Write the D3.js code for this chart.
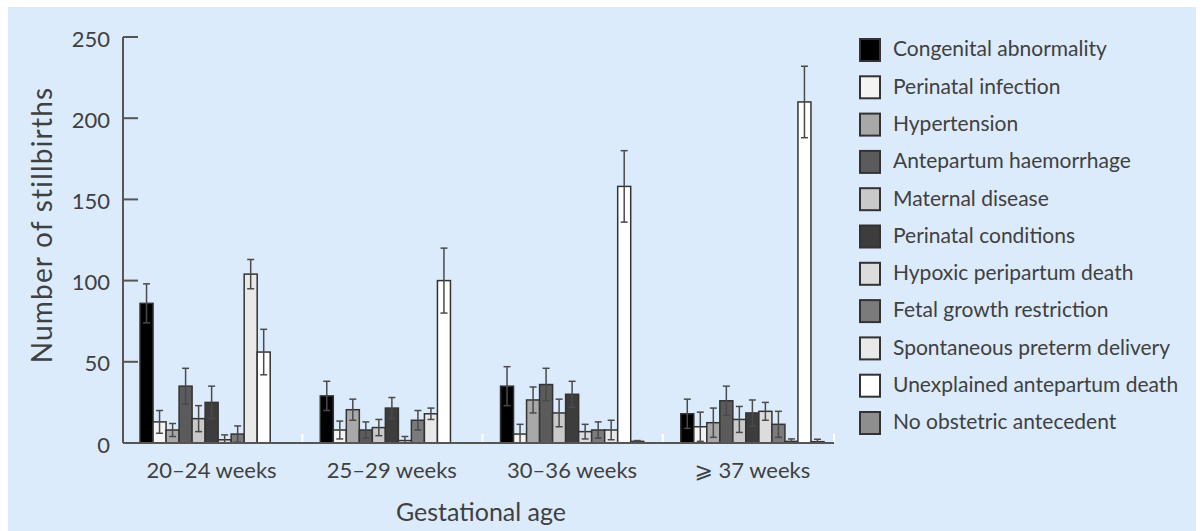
<!DOCTYPE html>
<html lang="en">
<head>
  <meta charset="UTF-8" />
  <title>Stillbirths by gestational age</title>
  <script src="https://d3js.org/d3.v7.min.js"></script>
  <style>
    body {
      margin: 0;
      padding: 0;
      background: #ffffff;
      font-family: Lato, "Open Sans", "DejaVu Sans", sans-serif;
    }
    #chart {
      width: 1204px;
      height: 531px;
    }
    text {
      fill: #404040;
      font-weight: 400;
    }
  </style>
</head>
<body>

<div id="chart"></div>

<script>
  // Categories and causes
  const ages = ["20\u201324 weeks", "25\u201329 weeks", "30\u201336 weeks", "\u2A7E 37 weeks"];
  const causes = [
    "Congenital abnormality", "Perinatal infection", "Hypertension",
    "Antepartum haemorrhage", "Maternal disease", "Perinatal conditions",
    "Hypoxic peripartum death", "Fetal growth restriction",
    "Spontaneous preterm delivery", "Unexplained antepartum death",
    "No obstetric antecedent"
  ];
  const causeFills = ["#000000", "#f4f5f3", "#a8a8a8", "#5b5b5b", "#c9c9c9", "#3d3d3d",
                      "#dcdcdc", "#7b7b7b", "#e9e9e9", "#ffffff", "#8e8e8e"];

  // Values per cause, one per age group
  const congenital   = [86, 29, 35, 18];
  const infection    = [13, 8, 5.5, 10];
  const hypertension = [8, 20.5, 26.5, 12.5];
  const haemorrhage  = [35, 8, 36, 26];
  const maternal     = [15, 9.5, 18.5, 14.5];
  const perinatal    = [25, 21.5, 30, 18.5];
  const hypoxic      = [2, 1.5, 7, 19.5];
  const fetalGrowth  = [5.5, 14, 8, 11.5];
  const spontaneous  = [104, 18, 8, 1];
  const unexplained  = [56, 100, 158, 210];
  const noAntecedent = [0, 0, 1, 0.8];

  // Half-widths of the error bars
  const congenitalErr   = [12, 9, 12, 9];
  const infectionErr    = [7, 5.5, 6, 9];
  const hypertensionErr = [4, 6.5, 8, 9];
  const haemorrhageErr  = [11, 5, 10, 9];
  const maternalErr     = [8, 5, 8.5, 8];
  const perinatalErr    = [10, 6.5, 8, 8];
  const hypoxicErr      = [3, 2.5, 4.5, 5.5];
  const fetalGrowthErr  = [5, 6, 5, 8];
  const spontaneousErr  = [9, 3.5, 6, 1.5];
  const unexplainedErr  = [14, 20, 22, 22];
  const noAntecedentErr = [0, 0, 0.5, 1.5];

  const yTicks = [0, 50, 100, 150, 200, 250];

  const series = [congenital, infection, hypertension, haemorrhage, maternal, perinatal,
                  hypoxic, fetalGrowth, spontaneous, unexplained, noAntecedent];
  const errors = [congenitalErr, infectionErr, hypertensionErr, haemorrhageErr, maternalErr,
                  perinatalErr, hypoxicErr, fetalGrowthErr, spontaneousErr, unexplainedErr,
                  noAntecedentErr];

  const rows = [];
  ages.forEach((age, gi) => {
    causes.forEach((cause, ci) => {
      rows.push({ age, cause, ci, value: series[ci][gi], err: errors[ci][gi] });
    });
  });

  const width = 1204;
  const height = 531;
  const axisLeft = 123, axisRight = 834;

  const svg = d3.select("#chart")
    .append("svg")
    .attr("width", width)
    .attr("height", height);

  // light blue panel
  svg.append("rect")
    .attr("x", 8).attr("y", 7)
    .attr("width", 1188).attr("height", height - 7)
    .attr("fill", "#dcebfc");

  const y = d3.scaleLinear().domain([0, 250]).range([443, 37]);

  const x0 = d3.scaleBand()
    .domain(ages)
    .range([122, 842])
    .paddingInner(37 / 180)
    .paddingOuter(0.1);

  const x1 = d3.scaleBand()
    .domain(causes)
    .range([0, x0.bandwidth()]);

  const color = d3.scaleOrdinal().domain(causes).range(causeFills);

  // Bars
  const bars = svg.append("g");
  bars.selectAll("rect")
    .data(rows)
    .join("rect")
    .attr("x", d => x0(d.age) + x1(d.cause))
    .attr("y", d => y(d.value))
    .attr("width", x1.bandwidth())
    .attr("height", d => y(0) - y(d.value))
    .attr("fill", d => color(d.cause))
    .attr("stroke", "#333")
    .attr("stroke-width", 1.5);

  // Error bars
  const errG = svg.append("g")
    .attr("stroke", "#4a4a4a")
    .attr("stroke-width", 1.5)
    .selectAll("g")
    .data(rows.filter(d => d.err > 0))
    .join("g")
    .attr("transform", d => `translate(${x0(d.age) + x1(d.cause) + x1.bandwidth() / 2},0)`);

  errG.append("line")
    .attr("y1", d => y(d.value + d.err))
    .attr("y2", d => y(Math.max(0, d.value - d.err)));
  errG.append("line")
    .attr("x1", -3.5).attr("x2", 3.5)
    .attr("y1", d => y(d.value + d.err))
    .attr("y2", d => y(d.value + d.err));
  errG.append("line")
    .attr("x1", -3.5).attr("x2", 3.5)
    .attr("y1", d => y(Math.max(0, d.value - d.err)))
    .attr("y2", d => y(Math.max(0, d.value - d.err)));

  // Y axis: line with ticks pointing into the plot
  const yAxis = svg.append("g");
  yAxis.append("line")
    .attr("x1", axisLeft).attr("x2", axisLeft)
    .attr("y1", y(250)).attr("y2", y(0))
    .attr("stroke", "#555").attr("stroke-width", 2);
  yAxis.selectAll(".tick")
    .data(yTicks)
    .join("line")
    .attr("x1", axisLeft).attr("x2", axisLeft + 15)
    .attr("y1", d => y(d)).attr("y2", d => y(d))
    .attr("stroke", "#555").attr("stroke-width", 2);
  yAxis.selectAll("text")
    .data(yTicks)
    .join("text")
    .attr("x", 110)
    .attr("y", d => y(d) + 4)
    .attr("text-anchor", "end")
    .attr("dominant-baseline", "middle")
    .style("font-size", "22px")
    .text(d => d);

  // X axis baseline
  svg.append("line")
    .attr("x1", axisLeft).attr("x2", axisRight)
    .attr("y1", y(0)).attr("y2", y(0))
    .attr("stroke", "#555").attr("stroke-width", 2);

  // small white marks between groups
  svg.append("g").selectAll("line")
    .data(ages.slice(1).map(a => x0(a) - 18).concat([axisRight]))
    .join("line")
    .attr("x1", d => d).attr("x2", d => d)
    .attr("y1", y(0) - 9).attr("y2", y(0) - 1)
    .attr("stroke", "#ffffff").attr("stroke-width", 2);

  svg.append("g").selectAll("text")
    .data(ages)
    .join("text")
    .attr("x", d => x0(d) + x0.bandwidth() / 2)
    .attr("y", 472)
    .attr("text-anchor", "middle")
    .attr("dominant-baseline", "middle")
    .style("font-size", "22px")
    .text(d => d);

  // Axis titles
  svg.append("text")
    .attr("x", 481).attr("y", 515)
    .attr("text-anchor", "middle")
    .attr("dominant-baseline", "middle")
    .style("font-size", "25px")
    .text("Gestational age");

  svg.append("text")
    .attr("transform", "translate(45,225) rotate(-90)")
    .attr("text-anchor", "middle")
    .attr("dominant-baseline", "middle")
    .style("font-size", "28px")
    .style("letter-spacing", "1.2px")
    .text("Number of stillbirths");

  // Legend
  const legend = svg.append("g")
    .selectAll("g")
    .data(causes)
    .join("g")
    .attr("transform", (d, i) => `translate(860,${39 + i * 37.3})`);

  legend.append("rect")
    .attr("width", 20).attr("height", 22)
    .attr("fill", d => color(d))
    .attr("stroke", "#333")
    .attr("stroke-width", 2);

  legend.append("text")
    .attr("x", 33).attr("y", 12)
    .attr("dominant-baseline", "middle")
    .style("font-size", "21px")
    .text(d => d);
</script>
</body>
</html>
